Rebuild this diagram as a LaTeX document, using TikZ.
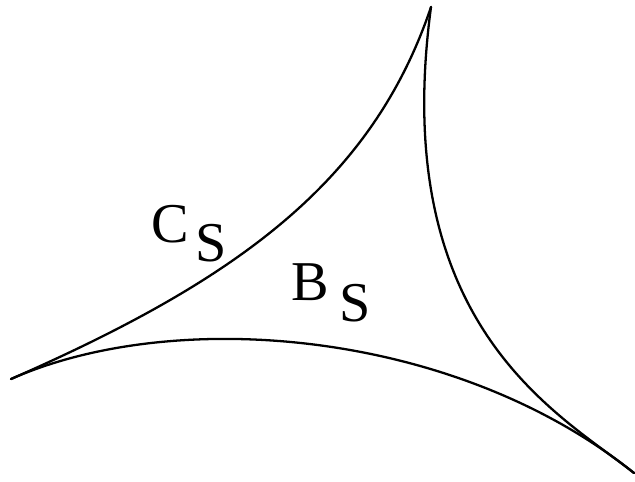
\documentclass[tikz,border=0pt]{standalone}
\usepackage{fontspec}
\setmainfont{Liberation Serif}
\begin{document}
\begin{tikzpicture}[x=0.02cm, y=-0.02cm]
    % Define styles
    \tikzstyle{edge} = [line width=1.3pt, line cap=round]
    \tikzstyle{lbl} = [inner sep=0pt, anchor=base west, font=\fontsize{32}{34}\selectfont]
    \useasboundingbox (0,0) rectangle (635,481);

    % Cusps
    \coordinate (a) at (11,379);
    \coordinate (t) at (431,7);
    \coordinate (r) at (634,473);

    % Labels
    \node[lbl] (cs) at (151,242) {C\kern0.14cm\raisebox{-0.38cm}{S}};
    \node[lbl] (bs) at (291,300) {B\kern0.22cm\raisebox{-0.42cm}{S}};

    % Curves
    \draw[edge] (a) .. controls (237,280) and (372,182) .. (t);
    \draw[edge] (t) .. controls (388,327) and (560,414) .. (r);
    \draw[edge] (a) .. controls (176,306) and (456,330) .. (r);
\end{tikzpicture}
\end{document}
